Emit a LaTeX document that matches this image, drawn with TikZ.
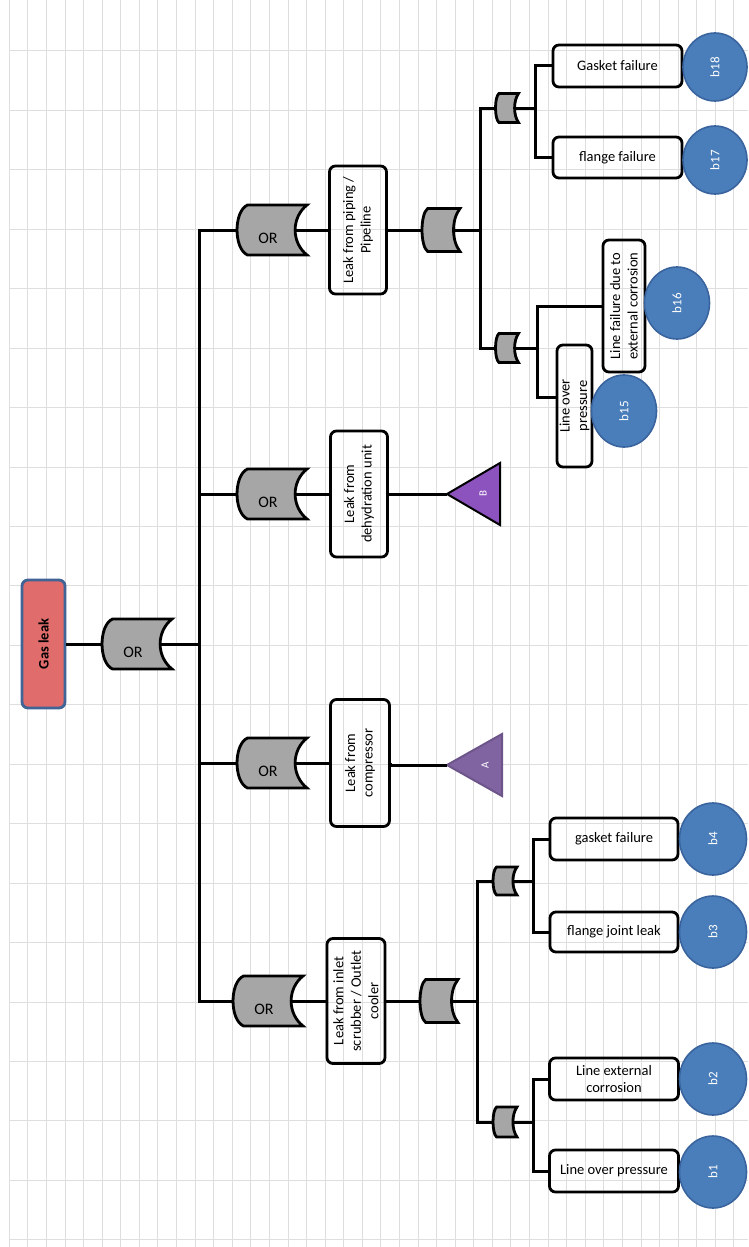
\documentclass[tikz,border=0pt]{standalone}
\usepackage{fontspec}
\setmainfont{Carlito}
\usetikzlibrary{shapes.geometric}

\definecolor{leakred}{RGB}{224,108,108}
\definecolor{leakedge}{RGB}{65,100,150}
\definecolor{gategray}{RGB}{166,166,166}
\definecolor{basicblue}{RGB}{74,126,187}
\definecolor{basicedge}{RGB}{58,100,158}
\definecolor{transa}{RGB}{128,100,162}
\definecolor{transb}{RGB}{140,82,190}
\definecolor{gridgray}{RGB}{222,222,222}

\tikzset{
  gridline/.style={gridgray, line width=1pt},
  wire/.style={line width=3pt},
  event/.style={draw, line width=2.8pt, rounded corners=6pt, align=center,
    inner sep=1pt, font=\fontsize{14.5}{17.5}\selectfont},
  topevent/.style={draw=leakedge, fill=leakred, line width=2.8pt, rounded corners=6pt,
    font=\fontsize{14.5}{17}\selectfont\bfseries},
  basic/.style={ellipse, draw=basicedge, fill=basicblue, line width=1.6pt, text=white,
    inner sep=0pt, font=\fontsize{13}{15}\selectfont},
  gateshape/.style={draw, fill=gategray, line width=2.8pt},
  gatetext/.style={inner sep=0pt},
  gatelabel/.style={inner sep=0pt, font=\fontsize{16}{19}\selectfont},
  transfer/.style={line width=2pt},
  transtext/.style={text=white, inner sep=0pt, font=\fontsize{11}{13}\selectfont}
}

% name, centre, width, height, label
\newcommand{\orgate}[5]{%
  \pgfmathsetmacro{\gtw}{#3/2}\pgfmathsetmacro{\gth}{#4/2}%
  \pgfmathsetmacro{\gtc}{0.15*#3}\pgfmathsetmacro{\gtd}{0.17*#3}%
  \draw[gateshape, shift={(#2)}]
    (-\gtw+\gtc,-\gth) -- (\gtw,-\gth)
    .. controls (\gtw-1.33*\gtd,-0.5*\gth) and (\gtw-1.33*\gtd,0.5*\gth) .. (\gtw,\gth)
    -- (-\gtw+\gtc,\gth)
    .. controls (-\gtw-0.33*\gtc,0.75*\gth) and (-\gtw-0.33*\gtc,-0.75*\gth) .. cycle;
  \node[gatetext, minimum width=#3pt, minimum height=#4pt] (#1) at (#2) {};
  \node[gatelabel] (#1-label) at ([xshift=-4pt,yshift=-8pt]#1.center) {#5};
  \coordinate (#1-out) at ([xshift=-0.17*#3pt]#1.east);
}

\begin{document}
\begin{tikzpicture}[x=1pt, y=-1pt]
\useasboundingbox (0,0) rectangle (748,1247);

\foreach \gx in {0,...,39}
  \draw[gridline] ({9.3+18.58*\gx},0) -- ({9.3+18.58*\gx},1247);
\foreach \gy in {0,...,20}
  \draw[gridline] (9.3,{51+59.44*\gy}) -- (748,{51+59.44*\gy});

% top event
\node[topevent, rotate=90, minimum width=128pt, minimum height=43pt] (gas) at (43.5,644) {Gas leak};
\orgate{g0}{137,644}{70}{50}{OR}
\coordinate (bus) at (199,644);

\orgate{gpipe}{272,230}{70}{50}{OR}
\orgate{gdehy}{272,494}{70}{50}{OR}
\orgate{gcomp}{272,763}{70}{50}{OR}
\orgate{ginlet}{268,1001}{70}{50}{OR}

\node[event, rotate=90, minimum width=128pt, minimum height=57pt] (epipe) at (358,230) {Leak from piping /\\Pipeline};
\node[event, rotate=90, minimum width=126pt, minimum height=57pt] (edehy) at (359,494) {Leak from\\dehydration unit};
\node[event, rotate=90, minimum width=127pt, minimum height=59pt] (ecomp) at (360,763) {Leak from\\compressor};
\node[event, rotate=90, minimum width=125pt, minimum height=58pt] (einlet) at (356,1001) {Leak from inlet\\scrubber / Outlet\\cooler};

% transfer triangles
\coordinate (bapex) at (447,494);
\draw[transfer, draw=black, fill=transb] (bapex) -- ++(53,-31) -- ++(0,62) -- cycle;
\node[transtext, rotate=90] (blabel) at (483,494) {B};
\coordinate (aapex) at (447,765);
\draw[transfer, draw=transa!85!black, fill=transa] (aapex) -- ++(55,-31) -- ++(0,62) -- cycle;
\node[transtext, rotate=90] (alabel) at (485,765) {A};

% piping branch
\orgate{mpipe}{441,230}{38}{43}{}
\coordinate (buspipe) at (480,230);
\orgate{spipea}{507,108}{23}{29}{}
\orgate{spipeb}{507,348}{23}{29}{}
\coordinate (subpipea) at (535,108);
\coordinate (subpipeb) at (537,348);

\node[event, minimum width=129pt, minimum height=42pt] (e18) at (617.5,66) {Gasket failure};
\node[event, minimum width=129pt, minimum height=41pt] (e17) at (617.5,157.5) {flange failure};
\node[event, rotate=90, minimum width=132pt, minimum height=42pt] (e16) at (624,306) {Line failure due to\\external corrosion};
\node[event, rotate=90, minimum width=122pt, minimum height=35pt] (e15) at (574.5,406) {Line over\\pressure};

% inlet branch
\orgate{minlet}{439,1001}{38}{43}{}
\coordinate (businlet) at (477,1001);
\orgate{sinleta}{505,881}{24}{28}{}
\orgate{sinletb}{505,1122}{24}{30}{}
\coordinate (subinleta) at (533,881);
\coordinate (subinletb) at (533,1122);

\node[event, minimum width=128pt, minimum height=42pt] (e4) at (614,839) {gasket failure};
\node[event, minimum width=128pt, minimum height=40pt] (e3) at (614,932) {flange joint leak};
\node[event, minimum width=129pt, minimum height=42pt] (e2) at (614,1079) {Line external\\corrosion};
\node[event, minimum width=129pt, minimum height=42pt] (e1) at (614,1171) {Line over pressure};

% basic events
\node[basic, rotate=90, minimum width=68pt, minimum height=64pt] (b18) at (715,67) {b18};
\node[basic, rotate=90, minimum width=68pt, minimum height=64pt] (b17) at (715,160) {b17};
\node[basic, rotate=90, minimum width=72pt, minimum height=65pt] (b16) at (677,303) {b16};
\node[basic, rotate=90, minimum width=72pt, minimum height=65pt] (b15) at (624,411) {b15};
\node[basic, rotate=90, minimum width=72pt, minimum height=67pt] (b4) at (713,839) {b4};
\node[basic, rotate=90, minimum width=72pt, minimum height=67pt] (b3) at (713,932) {b3};
\node[basic, rotate=90, minimum width=72pt, minimum height=67pt] (b2) at (713,1079) {b2};
\node[basic, rotate=90, minimum width=72pt, minimum height=67pt] (b1) at (713,1172) {b1};

% connectors
\draw[wire] (gas.south) -- (g0.west);
\draw[wire] (g0-out) -- (bus);
\draw[wire] (gpipe.west) -| (bus) |- (ginlet.west);
\draw[wire] (gdehy.west) -- (gdehy.west -| bus);
\draw[wire] (gcomp.west) -- (gcomp.west -| bus);

\draw[wire] (gpipe-out) -- (epipe.north);
\draw[wire] (gdehy-out) -- (edehy.north);
\draw[wire] (gcomp-out) -- (ecomp.north);
\draw[wire] (ginlet-out) -- (einlet.north);
\draw[wire] (edehy.south) -- (bapex);
\draw[wire] (ecomp.south) -- (ecomp.south |- aapex) -- (aapex);

\draw[wire] (epipe.south) -- (mpipe.west);
\draw[wire] (mpipe-out) -- (buspipe);
\draw[wire] (spipea.west) -| (buspipe) |- (spipeb.west);
\draw[wire] (spipea-out) -- (subpipea);
\draw[wire] (e18.west) -| (subpipea) |- (e17.west);
\draw[wire] (spipeb-out) -- (subpipeb);
\draw[wire] (e16.north) -| (subpipeb) |- ([yshift=9pt]e15.north);

\draw[wire] (einlet.south) -- (minlet.west);
\draw[wire] (minlet-out) -- (businlet);
\draw[wire] (sinleta.west) -| (businlet) |- (sinletb.west);
\draw[wire] (sinleta-out) -- (subinleta);
\draw[wire] (e4.west) -| (subinleta) |- (e3.west);
\draw[wire] (sinletb-out) -- (subinletb);
\draw[wire] (e2.west) -| (subinletb) |- (e1.west);
\end{tikzpicture}
\end{document}
